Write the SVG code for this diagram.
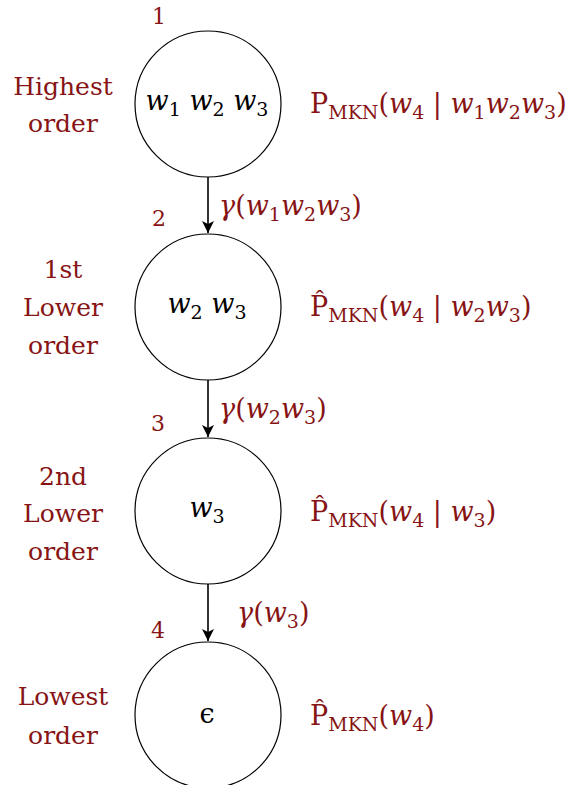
<svg xmlns="http://www.w3.org/2000/svg" width="573" height="785" viewBox="0 0 573 785">
<defs>
<style>
.lbl{font-family:"DejaVu Serif","Liberation Serif",serif;font-size:25px;fill:#871414}
.num{font-family:"DejaVu Serif","Liberation Serif",serif;font-size:22px;fill:#871414}
.m{font-family:"DejaVu Serif","Liberation Serif",serif;font-size:27px;fill:#871414}
.node{fill:#fff;stroke:#000;stroke-width:1.2}
.nt{font-family:"DejaVu Serif","Liberation Serif",serif;font-size:27px;fill:#000;text-anchor:middle}
.it{font-style:italic}
.sub{font-size:19px}
.mid{text-anchor:middle}
.edge{stroke:#000;stroke-width:1.6;fill:none}
</style>
<marker id="arr" markerWidth="12" markerHeight="14" refX="12" refY="7" orient="auto" markerUnits="userSpaceOnUse">
<path d="M0,1 L12,7 L0,13 L3,7 Z" fill="#000"/>
</marker>
</defs>
<rect width="573" height="785" fill="#fff"/>
<g id="connectors">
<line class="edge" x1="208" y1="177" x2="208" y2="233" marker-end="url(#arr)"/>
<line class="edge" x1="208" y1="380" x2="208" y2="437" marker-end="url(#arr)"/>
<line class="edge" x1="208" y1="584" x2="208" y2="641" marker-end="url(#arr)"/>
<text class="m" x="219" y="215"><tspan class="it">γ</tspan>(<tspan class="it">w</tspan><tspan class="sub" dy="6">1</tspan><tspan class="it" dy="-6">w</tspan><tspan class="sub" dy="6">2</tspan><tspan class="it" dy="-6">w</tspan><tspan class="sub" dy="6">3</tspan><tspan dy="-6">)</tspan></text>
<text class="m" x="219" y="418"><tspan class="it">γ</tspan>(<tspan class="it">w</tspan><tspan class="sub" dy="6">2</tspan><tspan class="it" dy="-6">w</tspan><tspan class="sub" dy="6">3</tspan><tspan dy="-6">)</tspan></text>
<text class="m" x="237" y="622"><tspan class="it">γ</tspan>(<tspan class="it">w</tspan><tspan class="sub" dy="6">3</tspan><tspan dy="-6">)</tspan></text>
</g>
<g id="node1">
<circle class="node" cx="208" cy="104" r="73"/>
<text class="nt" x="207" y="110"><tspan class="it">w</tspan><tspan class="sub" dy="6">1</tspan><tspan dy="-6"> </tspan><tspan class="it">w</tspan><tspan class="sub" dy="6">2</tspan><tspan dy="-6"> </tspan><tspan class="it">w</tspan><tspan class="sub" dy="6">3</tspan></text>
<text class="num" x="152" y="24">1</text>
<text class="lbl mid" x="63" y="95">Highest</text>
<text class="lbl mid" x="63" y="132">order</text>
<text class="m" x="310" y="113">P<tspan class="sub" dy="6">MKN</tspan><tspan dy="-6">(</tspan><tspan class="it">w</tspan><tspan class="sub" dy="6">4</tspan><tspan dy="-6"> | </tspan><tspan class="it">w</tspan><tspan class="sub" dy="6">1</tspan><tspan class="it" dy="-6">w</tspan><tspan class="sub" dy="6">2</tspan><tspan class="it" dy="-6">w</tspan><tspan class="sub" dy="6">3</tspan><tspan dy="-6">)</tspan></text>
</g>
<g id="node2">
<circle class="node" cx="208" cy="307" r="73"/>
<text class="nt" x="207" y="313"><tspan class="it">w</tspan><tspan class="sub" dy="6">2</tspan><tspan dy="-6"> </tspan><tspan class="it">w</tspan><tspan class="sub" dy="6">3</tspan></text>
<text class="num" x="152" y="226">2</text>
<text class="lbl mid" x="63" y="278">1st</text>
<text class="lbl mid" x="63" y="316">Lower</text>
<text class="lbl mid" x="63" y="354">order</text>
<text class="m" x="310" y="316">P̂<tspan class="sub" dy="6">MKN</tspan><tspan dy="-6">(</tspan><tspan class="it">w</tspan><tspan class="sub" dy="6">4</tspan><tspan dy="-6"> | </tspan><tspan class="it">w</tspan><tspan class="sub" dy="6">2</tspan><tspan class="it" dy="-6">w</tspan><tspan class="sub" dy="6">3</tspan><tspan dy="-6">)</tspan></text>
</g>
<g id="node3">
<circle class="node" cx="208" cy="511" r="73"/>
<text class="nt" x="207" y="517"><tspan class="it">w</tspan><tspan class="sub" dy="6">3</tspan></text>
<text class="num" x="151" y="431">3</text>
<text class="lbl mid" x="63" y="485">2nd</text>
<text class="lbl mid" x="63" y="522">Lower</text>
<text class="lbl mid" x="63" y="560">order</text>
<text class="m" x="310" y="521">P̂<tspan class="sub" dy="6">MKN</tspan><tspan dy="-6">(</tspan><tspan class="it">w</tspan><tspan class="sub" dy="6">4</tspan><tspan dy="-6"> | </tspan><tspan class="it">w</tspan><tspan class="sub" dy="6">3</tspan><tspan dy="-6">)</tspan></text>
</g>
<g id="node4">
<circle class="node" cx="208" cy="715" r="73"/>
<text class="nt" x="207" y="723">ϵ</text>
<text class="num" x="151" y="638">4</text>
<text class="lbl mid" x="63" y="705">Lowest</text>
<text class="lbl mid" x="63" y="744">order</text>
<text class="m" x="310" y="725">P̂<tspan class="sub" dy="6">MKN</tspan><tspan dy="-6">(</tspan><tspan class="it">w</tspan><tspan class="sub" dy="6">4</tspan><tspan dy="-6">)</tspan></text>
</g>
</svg>
